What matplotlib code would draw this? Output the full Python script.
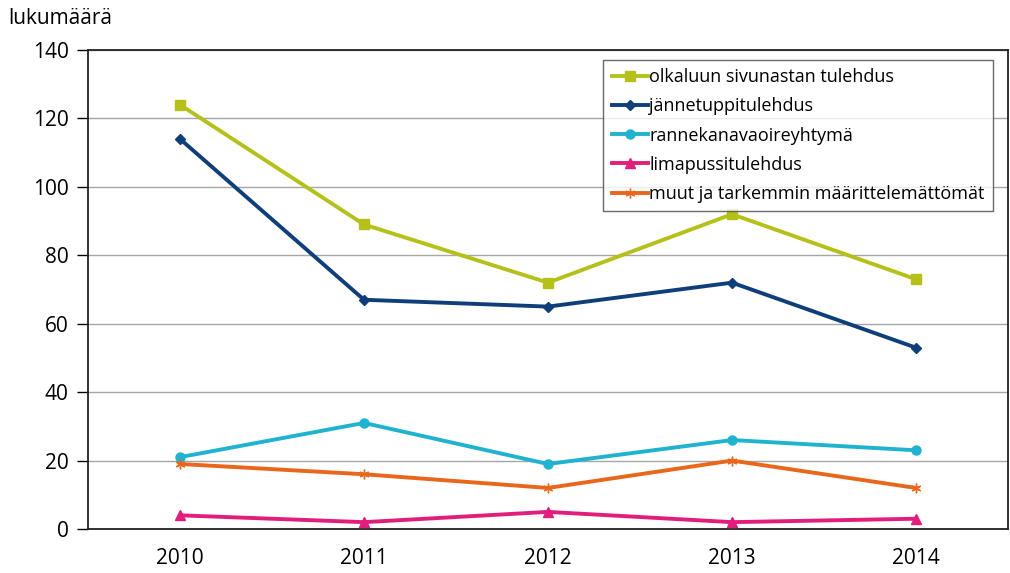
import matplotlib
matplotlib.use("Agg")
import matplotlib.pyplot as plt

plt.rcParams["font.family"] = ["Open Sans", "DejaVu Sans"]

years = ["2010", "2011", "2012", "2013", "2014"]
olkaluun = [124, 89, 72, 92, 73]
jannetuppi = [114, 67, 65, 72, 53]
rannekanava = [21, 31, 19, 26, 23]
limapussi = [4, 2, 5, 2, 3]
muut = [19, 16, 12, 20, 12]

series = [
    ("olkaluun sivunastan tulehdus", olkaluun, "#B5C11A", "s", 6.5),
    ("jännetuppitulehdus", jannetuppi, "#0E3F78", "D", 5),
    ("rannekanavaoireyhtymä", rannekanava, "#20B3CF", "o", 6.5),
    ("limapussitulehdus", limapussi, "#E31D7C", "^", 7),
    ("muut ja tarkemmin määrittelemättömät", muut, "#E8671C", (6, 2, 0), 7),
]

fig = plt.figure(figsize=(10.1, 5.73), dpi=100)
ax = fig.add_axes([88 / 1010, 44 / 573, 920 / 1010, 479 / 573])

x = list(range(len(years)))
for label, vals, color, marker, ms in series:
    ax.plot(x, vals, color=color, lw=2.8, marker=marker, markersize=ms,
            markeredgecolor=color, markerfacecolor=color, label=label, zorder=3)

ax.set_xlim(-0.5, len(years) - 0.5)
ax.set_ylim(0, 140)
ax.set_yticks(range(0, 141, 20))
ax.set_xticks(x)
ax.set_xticklabels(years)
ax.tick_params(axis="y", length=8, width=1, labelsize=15, pad=6)
ax.tick_params(axis="x", length=0, labelsize=15, pad=14)
ax.grid(axis="y", color="#a6a6a6", lw=1)
ax.set_axisbelow(True)
for s in ax.spines.values():
    s.set_color("#222222")
    s.set_linewidth(1.3)

fig.text(8 / 1010, 1 - 18 / 573, "lukumäärä", fontsize=15, ha="left", va="center")

leg = ax.legend(loc="upper right", bbox_to_anchor=(905 / 920, 469 / 479),
                fontsize=13, frameon=True, fancybox=False, handlelength=2.0,
                handletextpad=0.1, labelspacing=0.62, borderpad=0.45,
                borderaxespad=0)
leg.get_frame().set_edgecolor("#444444")
leg.get_frame().set_linewidth(1)

fig.savefig("out.png", dpi=100)
